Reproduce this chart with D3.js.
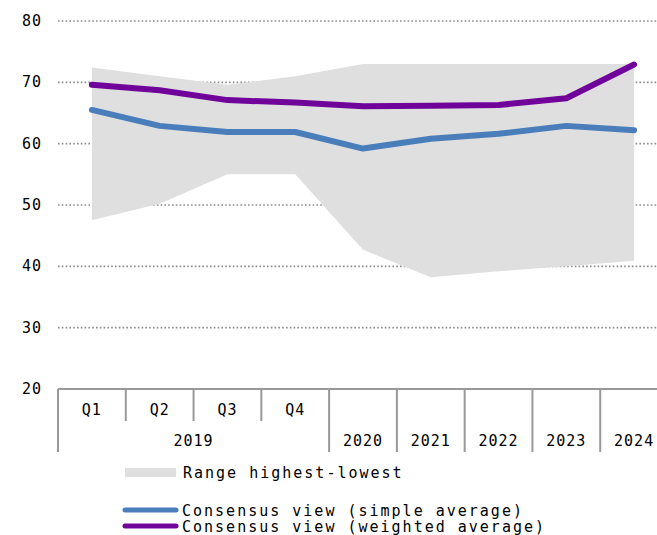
<!DOCTYPE html>
<html>
<head>
<meta charset="utf-8">
<script src="https://cdn.jsdelivr.net/npm/d3@7"></script>
<style>
  body { margin: 0; background: #fff; }
  text { font-family: "DejaVu Sans Mono", monospace; fill: #000; }
</style>
</head>
<body>
<svg id="chart" width="657" height="535"></svg>
<script>
const periods = ["Q1", "Q2", "Q3", "Q4", "2020", "2021", "2022", "2023", "2024"];
const years = ["2019", "2019", "2019", "2019", "2020", "2021", "2022", "2023", "2024"];
const rangeHigh = [72.4, 71.0, 69.6, 71.0, 73.0, 73.0, 73.0, 73.0, 73.0];
const rangeLow = [47.5, 50.2, 55.0, 55.0, 42.7, 38.2, 39.2, 40.0, 40.9];
const simpleAvg = [65.5, 62.9, 61.9, 61.9, 59.2, 60.8, 61.6, 62.9, 62.2];
const weightedAvg = [69.6, 68.7, 67.1, 66.7, 66.1, 66.2, 66.3, 67.4, 72.9];
const yTicks = [20, 30, 40, 50, 60, 70, 80];

const svg = d3.select("#chart");

const x = d3.scaleBand()
    .domain(periods)
    .range([58, 668])
    .padding(0);

const y = d3.scaleLinear()
    .domain([20, 80])
    .range([389, 21]);

const cx = d => x(d) + x.bandwidth() / 2;

// title, cut off at the top
svg.append("text")
    .attr("x", 58)
    .attr("y", -3)
    .attr("font-size", "15px")
    .attr("letter-spacing", "2px")
    .text("Brent oil price (USD per barrel)");

// grid lines
svg.selectAll(".grid")
    .data(yTicks.filter(t => t > 20))
    .enter()
    .append("line")
    .attr("x1", 58)
    .attr("x2", 657)
    .attr("y1", d => y(d))
    .attr("y2", d => y(d))
    .attr("stroke", "#8c8c8c")
    .attr("stroke-width", 1.6)
    .attr("stroke-dasharray", "1.6,2.2");

svg.selectAll(".ylab")
    .data(yTicks)
    .enter()
    .append("text")
    .attr("x", 42)
    .attr("y", d => y(d) + 5)
    .attr("text-anchor", "end")
    .attr("font-size", "15px")
    .attr("letter-spacing", "1px")
    .text(d => d);

// range area
const area = d3.area()
    .x((d, i) => cx(periods[i]))
    .y0((d, i) => y(rangeLow[i]))
    .y1((d, i) => y(rangeHigh[i]));

svg.append("path")
    .datum(periods)
    .attr("d", area)
    .attr("fill", "#dfdfdf");

// lines
const line = d3.line()
    .x((d, i) => cx(periods[i]))
    .y(d => y(d));

svg.append("path")
    .datum(simpleAvg)
    .attr("d", line)
    .attr("fill", "none")
    .attr("stroke", "#4a7ebb")
    .attr("stroke-width", 6)
    .attr("stroke-linecap", "round")
    .attr("stroke-linejoin", "round");

svg.append("path")
    .datum(weightedAvg)
    .attr("d", line)
    .attr("fill", "none")
    .attr("stroke", "#70049a")
    .attr("stroke-width", 6)
    .attr("stroke-linecap", "round")
    .attr("stroke-linejoin", "round");

// category axis
const axisTop = y(20);
svg.append("line")
    .attr("x1", x(periods[0]))
    .attr("x2", 668)
    .attr("y1", axisTop)
    .attr("y2", axisTop)
    .attr("stroke", "#999")
    .attr("stroke-width", 2);

svg.selectAll(".div")
    .data(periods.concat(["end"]))
    .enter()
    .append("line")
    .attr("x1", d => d === "end" ? 668 : x(d))
    .attr("x2", d => d === "end" ? 668 : x(d))
    .attr("y1", axisTop)
    .attr("y2", d => ["Q2", "Q3", "Q4"].includes(d) ? axisTop + 32 : axisTop + 63)
    .attr("stroke", "#999")
    .attr("stroke-width", 2);

svg.selectAll(".qlab")
    .data(periods.filter(p => p.startsWith("Q")))
    .enter()
    .append("text")
    .attr("x", d => cx(d))
    .attr("y", axisTop + 26)
    .attr("text-anchor", "middle")
    .attr("font-size", "15px")
    .attr("letter-spacing", "1px")
    .text(d => d);

const yearGroups = d3.groups(periods.map((p, i) => ({p, yr: years[i]})), d => d.yr);
svg.selectAll(".yrlab")
    .data(yearGroups)
    .enter()
    .append("text")
    .attr("x", d => (x(d[1][0].p) + x(d[1][d[1].length - 1].p) + x.bandwidth()) / 2)
    .attr("y", axisTop + 57)
    .attr("text-anchor", "middle")
    .attr("font-size", "15px")
    .attr("letter-spacing", "1px")
    .text(d => d[0]);

// legend
const legend = svg.append("g");
legend.append("rect")
    .attr("x", 125).attr("y", 468)
    .attr("width", 51).attr("height", 9)
    .attr("fill", "#dfdfdf");
legend.append("text")
    .attr("x", 183).attr("y", 478)
    .attr("font-size", "15px")
    .attr("letter-spacing", "2px")
    .text("Range highest-lowest");

const legItems = [
    {label: "Consensus view (simple average)", color: "#4a7ebb", ly: 510},
    {label: "Consensus view (weighted average)", color: "#70049a", ly: 526}
];
legItems.forEach(it => {
    legend.append("line")
        .attr("x1", 125).attr("x2", 176)
        .attr("y1", it.ly).attr("y2", it.ly)
        .attr("stroke", it.color)
        .attr("stroke-width", 5)
        .attr("stroke-linecap", "round");
    legend.append("text")
        .attr("x", 182).attr("y", it.ly + 6)
        .attr("font-size", "15px")
        .attr("letter-spacing", "2px")
        .text(it.label);
});
</script>
</body>
</html>
